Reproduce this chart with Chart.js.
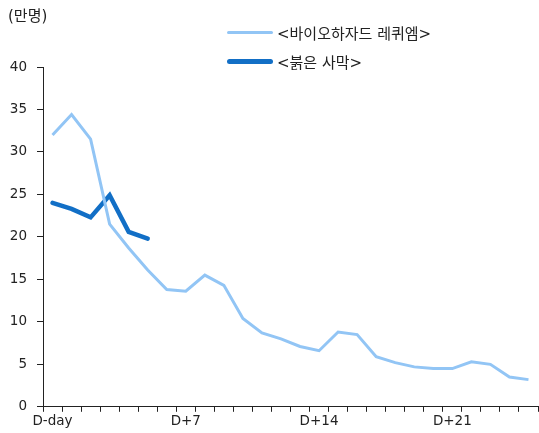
<!DOCTYPE html>
<html>
<head>
<meta charset="utf-8">
<script src="https://cdn.jsdelivr.net/npm/chart.js@4/dist/chart.umd.min.js"></script>
<style>
  html, body { margin: 0; padding: 0; background: #fff; }
  #wrap { position: relative; width: 539px; height: 433px; font-family: "DejaVu Sans", "Noto Sans CJK KR", sans-serif; color: #222; }
  #unit { position: absolute; left: 8px; top: 4px; font-size: 15px; }
  .leg { position: absolute; left: 227px; font-size: 15px; display: flex; align-items: center; }
  .leg span.sw { display: inline-block; width: 46px; margin-right: 4px; border-radius: 3px; }
</style>
</head>
<body>
<div id="wrap">
  <canvas id="chart" width="539" height="433"></canvas>
  <div id="unit">(만명)</div>
  <div class="leg" style="top:22px"><span class="sw" style="height:3px;background:#92c5f5"></span>&lt;바이오하자드 레퀴엠&gt;</div>
  <div class="leg" style="top:51px"><span class="sw" style="height:5px;background:#126fc6"></span>&lt;붉은 사막&gt;</div>
</div>
<script>
// 날짜 (D-day ~ D+25)
const days = [];
for (let i = 0; i <= 25; i++) days.push(i === 0 ? 'D-day' : 'D+' + i);

// 관객 수 (만명)
const biohazard = [32.0, 34.4, 31.5, 21.5, 18.7, 16.1, 13.8, 13.6, 15.5, 14.3,
  10.4, 8.7, 8.0, 7.1, 6.6, 8.8, 8.5, 5.9, 5.2, 4.7, 4.5, 4.5, 5.3, 5.0, 3.5, 3.2];
const redDesert = [24.0, 23.3, 22.3, 24.9, 20.6, 19.8];

const shownLabels = ['D-day', 'D+7', 'D+14', 'D+21'];
const tickFont = { family: '"DejaVu Sans", sans-serif', size: 13.5 };

const ctx = document.getElementById('chart').getContext('2d');
new Chart(ctx, {
  type: 'line',
  data: {
    labels: days,
    datasets: [
      {
        label: '<바이오하자드 레퀴엠>',
        data: biohazard,
        borderColor: '#92c5f5',
        borderWidth: 3,
        pointRadius: 0,
        tension: 0
      },
      {
        label: '<붉은 사막>',
        data: redDesert,
        borderColor: '#126fc6',
        borderWidth: 4.5,
        borderCapStyle: 'round',
        pointRadius: 0,
        tension: 0
      }
    ]
  },
  options: {
    responsive: false,
    animation: false,
    layout: { padding: { top: 67, right: 1, left: 0, bottom: 1 } },
    plugins: { legend: { display: false }, tooltip: { enabled: false } },
    scales: {
      x: {
        offset: true,
        grid: {
          offset: true,
          drawOnChartArea: false,
          drawTicks: true,
          tickLength: 5,
          color: '#222'
        },
        border: { color: '#222', width: 1 },
        ticks: {
          autoSkip: false,
          maxRotation: 0,
          padding: 2,
          color: '#222',
          font: tickFont,
          callback: function (v) {
            const l = this.getLabelForValue(v);
            return shownLabels.includes(l) ? l : '';
          }
        }
      },
      y: {
        min: 0,
        max: 40,
        afterFit: (s) => { s.width = 43; },
        grid: {
          drawOnChartArea: false,
          drawTicks: true,
          tickLength: 6,
          color: '#222'
        },
        border: { color: '#222', width: 1 },
        ticks: {
          stepSize: 5,
          padding: 10,
          color: '#222',
          font: tickFont
        }
      }
    }
  }
});
</script>
</body>
</html>
